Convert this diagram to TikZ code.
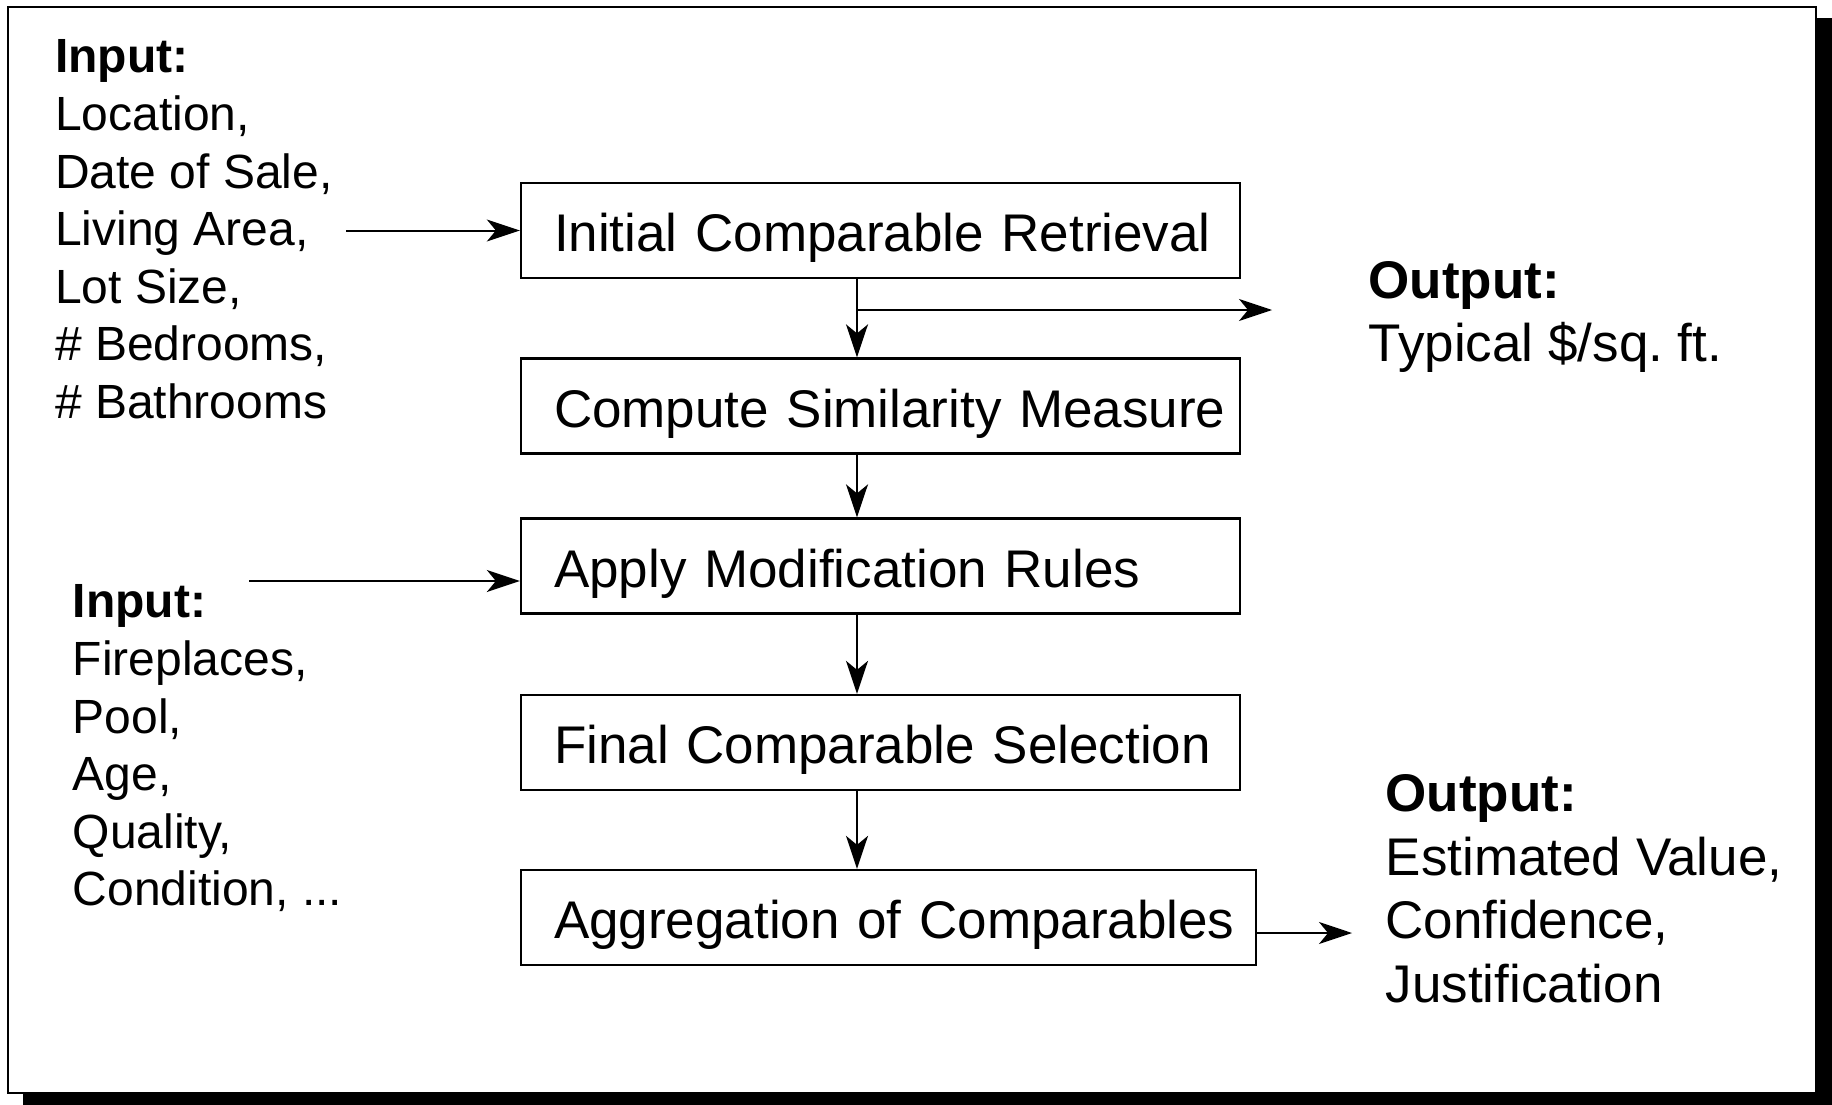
\documentclass[tikz,border=0pt]{standalone}
\usepackage{fontspec}
\setmainfont{Liberation Sans}
\frenchspacing
\usetikzlibrary{arrows.meta}
\tikzstyle{stage} = [rectangle, draw=black, line width=2.3pt, minimum height=95pt, text width=711pt, text height=42pt, text depth=0pt, inner xsep=4pt, inner ysep=0pt, align=left, font=\fontsize{53}{63.6}\selectfont, execute at begin node=\hspace*{29pt}]
\tikzstyle{inlist} = [anchor=north west, inner sep=0pt, align=left, font=\fontsize{48}{57.6}\selectfont]
\tikzstyle{outlist} = [anchor=north west, inner sep=0pt, align=left, font=\fontsize{53}{63.6}\selectfont]
\tikzstyle{arrow} = [line width=2pt, -{Stealth[length=33pt, width=22pt, inset=9pt]}]

\begin{document}
\begin{tikzpicture}[x=1pt, y=-1pt]
\useasboundingbox (0,0) rectangle (1832,1105);
\fill[black] (23,18) rectangle (1832,1105);
\draw[line width=2.5pt, fill=white] (8,7) rectangle (1816,1093);

\node (initial) [stage] at (880.5,230.5) {Initial Comparable Retrieval};
\node (similarity) [stage, below of=initial, node distance=175.5pt] {Compute Similarity Measure};
\node (modify) [stage, below of=similarity, node distance=160pt] {Apply Modification Rules};
\node (final) [stage, below of=modify, node distance=176.5pt] {Final Comparable Selection};
\node (aggregate) [stage, text width=727pt, below of=final, node distance=175pt, xshift=8pt] {Aggregation of Comparables};

\node (inputA) [inlist] at (55,39.6) {\textbf{Input:}\\Location,\\Date of Sale,\\Living Area,\\Lot Size,\\\# Bedrooms,\\\# Bathrooms};
\node (inputB) [inlist] at (72.5,584.6) {\textbf{Input:}\\Fireplaces,\\Pool,\\Age,\\Quality,\\Condition, ...};
\node (outputA) [outlist] at (1368.5,261) {\textbf{Output:}\\Typical \$/sq. ft.};
\node (outputB) [outlist] at (1385.5,774.5) {\textbf{Output:}\\Estimated Value,\\Confidence,\\Justification};

\coordinate (spine) at (857,0);
\coordinate (feedA) at (346,230.5);
\coordinate (feedB) at (249,581);
\coordinate (typical) at (1272,310);
\coordinate (result) at (1352,933);

\draw [arrow] (feedA) -- (initial);
\draw [arrow] (feedB) -- (feedB -| modify.west);
\draw [arrow] (initial.south -| spine) -- (similarity.north -| spine);
\draw [arrow] (spine |- typical) -- (typical);
\draw [arrow] (similarity.south -| spine) -- (modify.north -| spine);
\draw [arrow] (modify.south -| spine) -- (final.north -| spine);
\draw [arrow] (final.south -| spine) -- (aggregate.north -| spine);
\draw [arrow] (result -| aggregate.east) -- (result);
\end{tikzpicture}
\end{document}
